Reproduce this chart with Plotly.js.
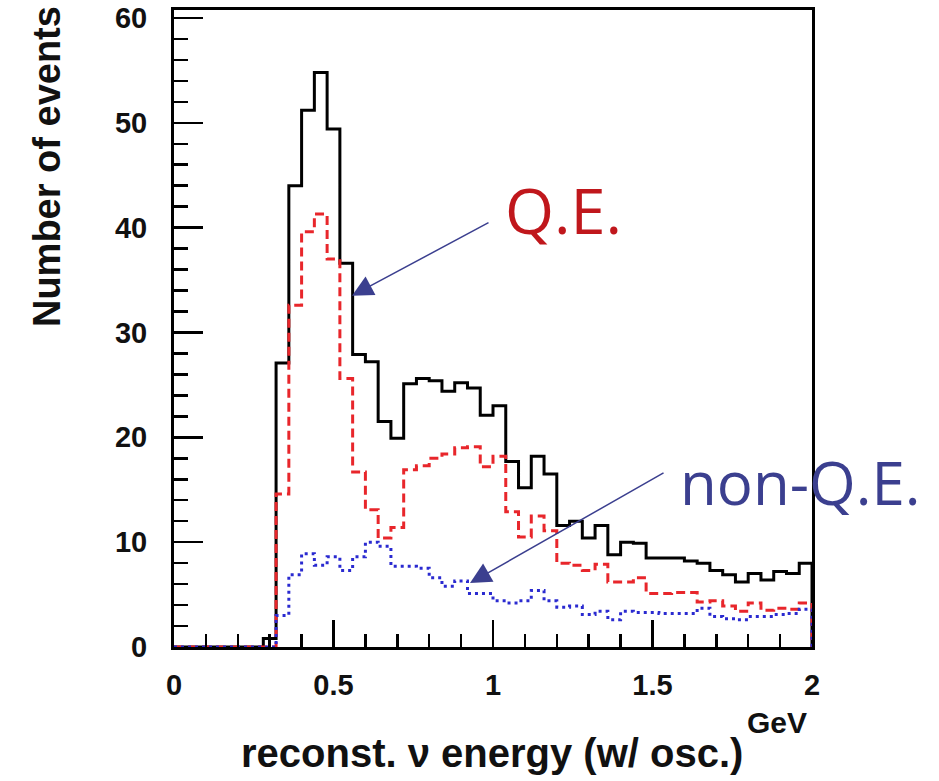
<!DOCTYPE html>
<html>
<head>
<meta charset="utf-8">
<script src="https://cdn.plot.ly/plotly-3.0.1.min.js"></script>
<style>html,body{margin:0;padding:0;background:#fff;}#chart{width:939px;height:781px;}</style>
</head>
<body>
<div id="chart"></div>
<script>
// Bin edges (GeV), 50 bins of 0.04 GeV
const binEdges = [0,0.04,0.08,0.12,0.16,0.2,0.24,0.28,0.32,0.36,0.4,0.44,0.48,0.52,0.56,0.6,0.64,0.68,0.72,0.76,0.8,0.84,0.88,0.92,0.96,1.0,1.04,1.08,1.12,1.16,1.2,1.24,1.28,1.32,1.36,1.4,1.44,1.48,1.52,1.56,1.6,1.64,1.68,1.72,1.76,1.8,1.84,1.88,1.92,1.96,2.0];

// Total events (black solid)
const totalEvents = [0,0,0,0,0,0,0,0.8,27.1,44.0,51.2,54.8,49.4,36.6,27.9,27.2,21.5,19.9,25.1,25.6,25.4,24.4,25.2,24.7,22.1,23.0,17.7,15.2,18.2,16.5,11.6,12.0,10.4,11.6,8.8,10.0,9.9,8.5,8.5,8.5,8.2,8.0,7.3,6.9,6.2,7.0,6.4,7.2,7.0,8.0];

// Q.E. events (red dashed)
const qeEvents = [0,0,0,0,0,0,0,0,14.6,32.6,39.6,41.3,37.0,25.6,16.7,13.1,10.4,11.4,16.9,17.3,18.0,18.4,19.0,19.1,17.2,18.2,12.9,10.5,12.5,11.1,8.0,7.8,7.3,7.9,6.2,6.2,6.6,5.1,5.1,5.2,5.2,4.3,4.4,3.9,3.4,4.2,3.5,3.7,3.6,4.2];

// non-Q.E. events (blue dotted)
const nonQeEvents = [0,0,0,0,0,0,0,0,3.0,6.9,8.9,7.8,8.6,7.3,8.6,10.0,9.6,7.7,7.7,7.5,6.6,5.8,6.3,5.1,5.1,4.4,4.2,4.4,5.4,4.4,3.8,3.9,3.1,3.4,2.6,3.4,3.3,3.3,3.2,3.2,3.2,3.7,2.9,2.7,2.6,2.9,2.9,3.1,3.2,3.6];

const xTickVals = [0,0.5,1,1.5,2];
const xTickText = ['0','0.5','1','1.5','2'];
const yTickVals = [0,10,20,30,40,50,60];
const yTickText = ['0','10','20','30','40','50','60'];

function stepY(vals){ return vals.concat([0]); }

const traces = [
  {x: binEdges, y: stepY(totalEvents), type:'scatter', mode:'lines',
   line:{shape:'hv', color:'#000000', width:3}, hoverinfo:'skip'},
  {x: binEdges, y: stepY(qeEvents), type:'scatter', mode:'lines',
   line:{shape:'hv', color:'#e8262b', width:3, dash:'9px,5px'}, hoverinfo:'skip'},
  {x: binEdges, y: stepY(nonQeEvents), type:'scatter', mode:'lines',
   line:{shape:'hv', color:'#2a2ad0', width:3, dash:'3px,4px'}, hoverinfo:'skip'}
];

const tickFont = {family:'Liberation Sans, Arial, sans-serif', size:29, color:'#111', weight:'bold'};

const layout = {
  width:939, height:781,
  margin:{l:174, r:127, t:10, b:134},
  paper_bgcolor:'#ffffff', plot_bgcolor:'#ffffff',
  showlegend:false,
  xaxis:{range:[0,2], showgrid:false, zeroline:false,
    showline:true, mirror:true, linecolor:'#000', linewidth:3,
    ticks:'inside', ticklen:27, tickwidth:2.5, tickcolor:'#000',
    tickvals:xTickVals, ticktext:xTickText,
    minor:{dtick:0.1, ticks:'inside', ticklen:13, tickwidth:2.5, tickcolor:'#000', showgrid:false},
    tickfont:tickFont, ticklabelstandoff:10},
  yaxis:{range:[0,60.76], showgrid:false, zeroline:false,
    showline:true, mirror:true, linecolor:'#000', linewidth:3,
    ticks:'inside', ticklen:29, tickwidth:2.5, tickcolor:'#000',
    tickvals:yTickVals, ticktext:yTickText,
    minor:{dtick:2, ticks:'inside', ticklen:14, tickwidth:2.5, tickcolor:'#000', showgrid:false},
    tickfont:tickFont, ticklabelstandoff:18},
  annotations:[
    {text:'Number of events', xref:'paper', yref:'paper', x:-0.199, y:0.7535,
     xanchor:'center', yanchor:'middle', textangle:-90, showarrow:false,
     font:{family:'Liberation Sans, Arial, sans-serif', size:38, color:'#111', weight:'bold'}},
    {text:'reconst. ν energy (w/ osc.)', xref:'paper', yref:'paper', x:(492-174)/638, y:(647-753)/637,
     xanchor:'center', yanchor:'middle', showarrow:false,
     font:{family:'Liberation Sans, Arial, sans-serif', size:40, color:'#111', weight:'bold'}},
    {text:'GeV', xref:'paper', yref:'paper', x:(777-174)/638, y:(647-722)/637,
     xanchor:'center', yanchor:'middle', showarrow:false,
     font:{family:'Liberation Sans, Arial, sans-serif', size:30, color:'#111', weight:'bold'}},
    {text:'Q.E.', xref:'paper', yref:'paper', x:(563-174)/638, y:(647-210)/637,
     xanchor:'center', yanchor:'middle', showarrow:false,
     font:{family:'Open Sans, sans-serif', size:63, color:'#c0171c'}},
    {text:'non-Q.E.', xref:'paper', yref:'paper', x:(800-174)/638, y:(647-482)/637,
     xanchor:'center', yanchor:'middle', showarrow:false,
     font:{family:'Open Sans, sans-serif', size:60, color:'#3b3f8f'}},
    {text:'', x:0.558, y:33.5, xref:'x', yref:'y', showarrow:true, ax:138, ay:-74,
     arrowhead:2, arrowsize:2.8, arrowwidth:1.5, arrowcolor:'#3b3f8f', standoff:0},
    {text:'', x:0.928, y:6.1, xref:'x', yref:'y', showarrow:true, ax:195, ay:-111,
     arrowhead:2, arrowsize:2.8, arrowwidth:1.5, arrowcolor:'#3b3f8f', standoff:0}
  ]
};

Plotly.newPlot('chart', traces, layout, {staticPlot:true, displayModeBar:false});
</script>
</body>
</html>
